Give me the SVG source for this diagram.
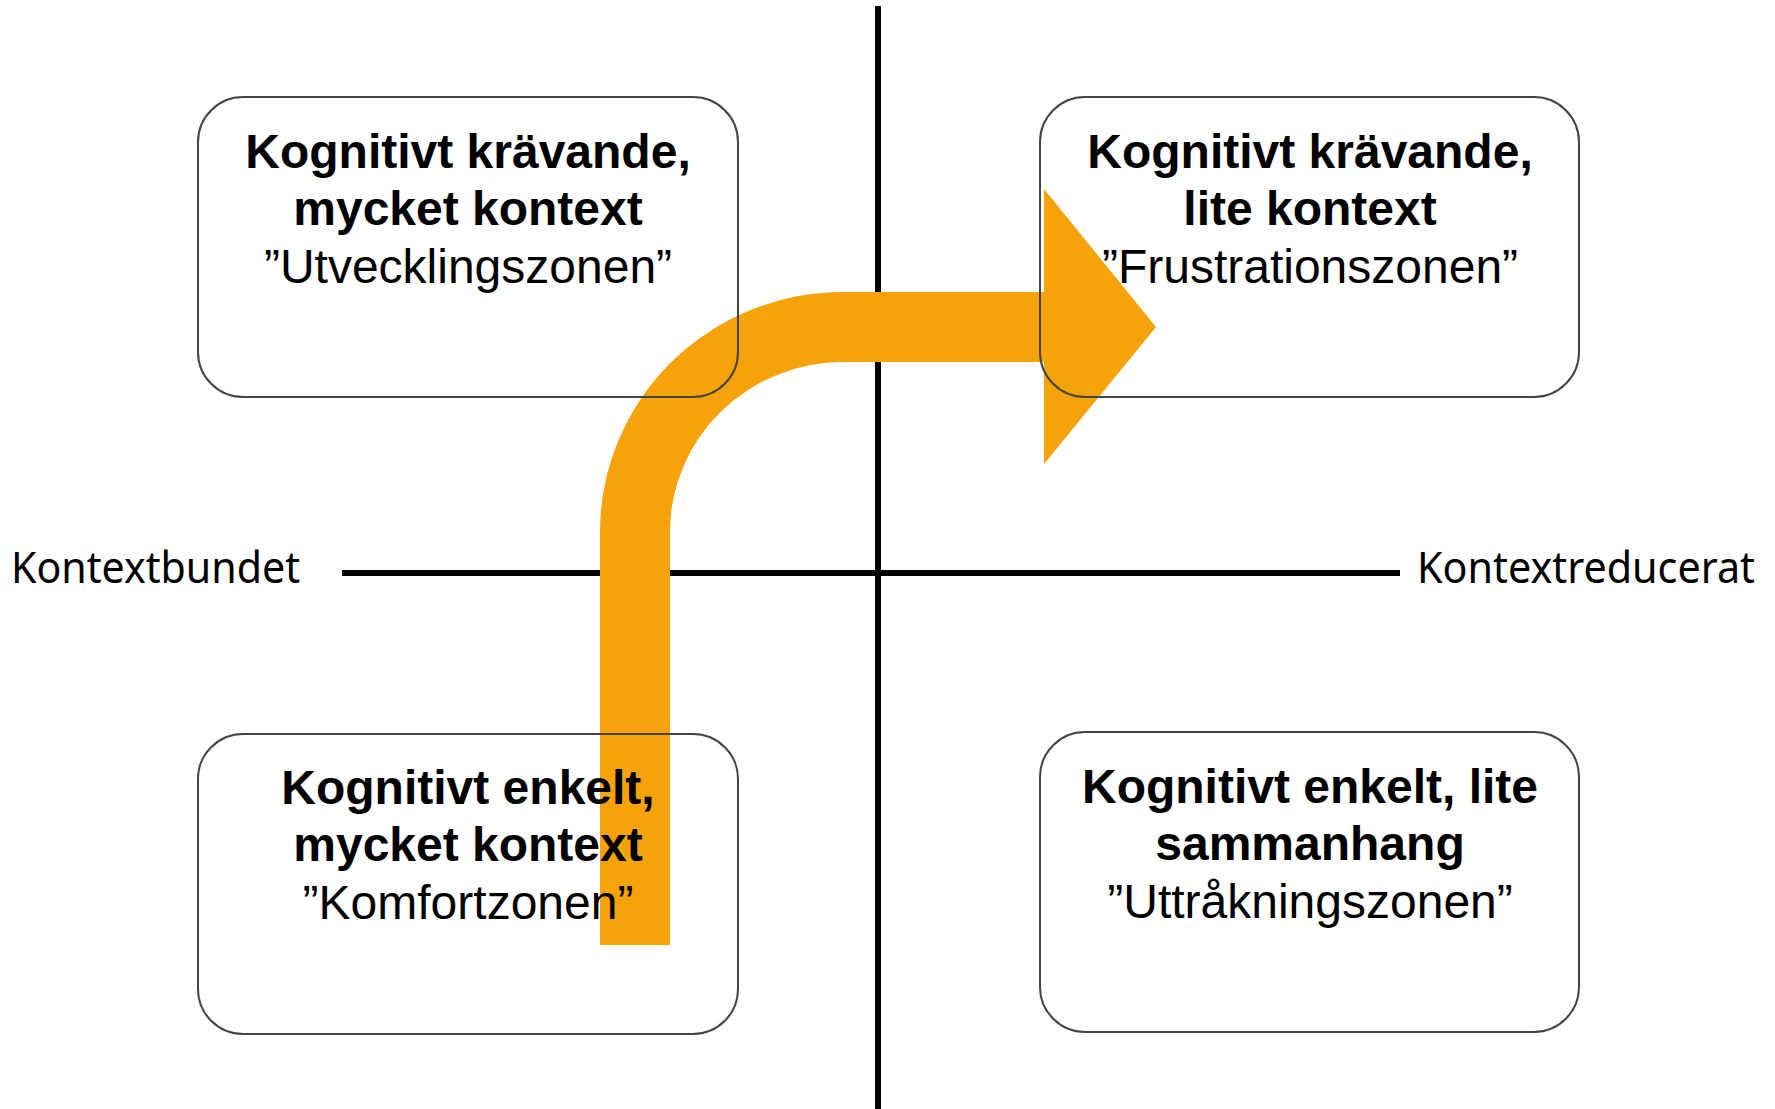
<svg xmlns="http://www.w3.org/2000/svg" width="1775" height="1109" viewBox="0 0 1775 1109">
<style>
.box{fill:#fff;stroke:none}
.border{fill:none;stroke:#444;stroke-width:2}
.t{font-family:"Liberation Sans",Arial,sans-serif;font-size:48px;fill:#000;text-anchor:middle}
.b{font-weight:bold}
.ax{font-family:"Noto Sans","Open Sans",sans-serif;font-size:44px;fill:#000}
.axis{stroke:#000;stroke-width:6}
</style>
<rect width="1775" height="1109" fill="#fff"/>
<g id="axes">
<line class="axis" x1="878" y1="6" x2="878" y2="1109"/>
<line class="axis" x1="342" y1="573" x2="1400" y2="573"/>
</g>
<g id="label-left"><text class="ax" x="11" y="583" textLength="289" lengthAdjust="spacingAndGlyphs">Kontextbundet</text></g>
<g id="label-right"><text class="ax" x="1417" y="583" textLength="338" lengthAdjust="spacingAndGlyphs">Kontextreducerat</text></g>
<g id="fills">
<rect class="box" x="198" y="97" width="540" height="300" rx="45"/>
<rect class="box" x="1040" y="97" width="539" height="300" rx="45"/>
<rect class="box" x="198" y="734" width="540" height="300" rx="45"/>
<rect class="box" x="1040" y="732" width="539" height="300" rx="45"/>
</g>
<g id="text-tr">
<text class="t b" x="1310" y="168">Kognitivt krävande,</text>
<text class="t b" x="1310" y="225">lite kontext</text>
<text class="t" x="1310" y="283">”Frustrationszonen”</text>
</g>
<g id="connectors">
<path d="M600 945 L600 532 A243 240 0 0 1 843 292 L1044 292 L1044 189 L1156 327 L1044 464 L1044 362 L843 362 A173 170 0 0 0 670 532 L670 945 Z" fill="#F5A20B"/>
</g>
<g id="node-tl">
<rect class="border" x="198" y="97" width="540" height="300" rx="45"/>
<text class="t b" x="468" y="168">Kognitivt krävande,</text>
<text class="t b" x="468" y="225">mycket kontext</text>
<text class="t" x="468" y="283">”Utvecklingszonen”</text>
</g>
<g id="node-tr">
<rect class="border" x="1040" y="97" width="539" height="300" rx="45"/>
</g>
<g id="node-bl">
<rect class="border" x="198" y="734" width="540" height="300" rx="45"/>
<text class="t b" x="468" y="804">Kognitivt enkelt,</text>
<text class="t b" x="468" y="861">mycket kontext</text>
<text class="t" x="468" y="919">”Komfortzonen”</text>
</g>
<g id="node-br">
<rect class="border" x="1040" y="732" width="539" height="300" rx="45"/>
<text class="t b" x="1310" y="803">Kognitivt enkelt, lite</text>
<text class="t b" x="1310" y="860">sammanhang</text>
<text class="t" x="1310" y="918">”Uttråkningszonen”</text>
</g>
</svg>
